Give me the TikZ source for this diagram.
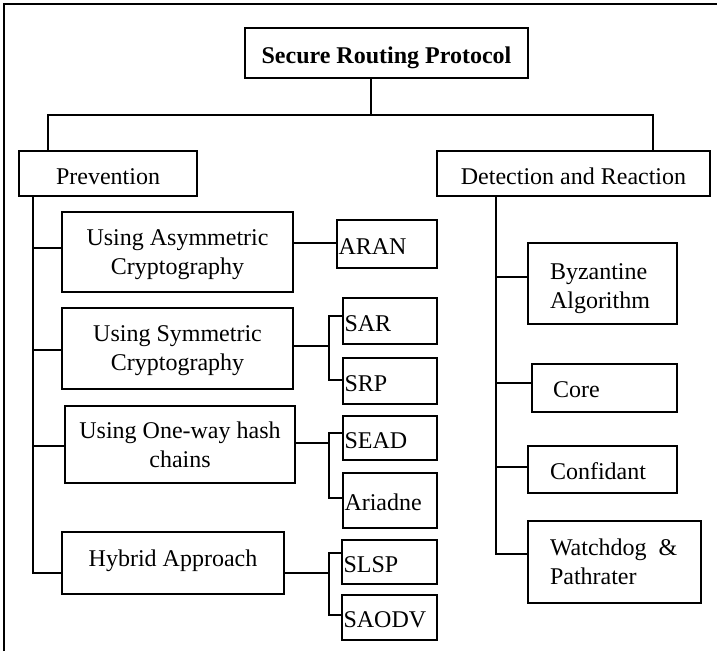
\documentclass[tikz,border=0pt]{standalone}
\usepackage{fontspec}
\setmainfont{Liberation Serif}
\begin{document}
\begin{tikzpicture}[x=1pt,y=-1pt,
  box/.style={draw, line width=1.3pt, inner sep=0pt, align=center, text depth=0pt, font=\fontsize{24}{29}\selectfont},
  leaf/.style={box, align=left, inner xsep=1.5pt, text height=20pt, text depth=0pt},
  rbox/.style={box, align=left},
  link/.style={line width=1.2pt},
  frame/.style={line width=1.4pt}
]
\useasboundingbox (0,0) rectangle (717,651);
\draw[frame] (4,651) -- (4,4) -- (717,4);

% top levels
\node[box, font=\fontsize{24}{29}\selectfont\bfseries, text height=20pt, minimum width=283pt, minimum height=50pt] (title) at (386.5,53) {Secure Routing Protocol};
\node[box, text height=22pt, minimum width=178pt, minimum height=45pt] (prev) at (108,173.5) {Prevention};
\node[box, text height=22pt, minimum width=273pt, minimum height=45pt] (det) at (573.5,173.5) {Detection and Reaction};

% prevention categories
\node[box, minimum width=231pt, minimum height=80pt] (asym) at (177.5,252) {Using Asymmetric\\Cryptography};
\node[box, minimum width=231pt, minimum height=81pt] (sym) at (177.5,348.5) {Using Symmetric\\Cryptography};
\node[box, minimum width=230pt, minimum height=77pt] (oneway) at (180,444.5) {Using One-way hash\\chains};
\node[box, text depth=10pt, minimum width=222pt, minimum height=62pt] (hyb) at (173,563) {Hybrid Approach};

% leaves
\node[leaf, text width=97pt, minimum width=100pt, minimum height=48pt] (aran) at (387,244) {ARAN};
\node[leaf, text width=91pt, minimum width=94pt, minimum height=46pt] (sar) at (390,321) {SAR};
\node[leaf, text width=91pt, minimum width=94pt, minimum height=46pt] (srp) at (390,381) {SRP};
\node[leaf, text width=91pt, minimum width=94pt, minimum height=44pt] (sead) at (390,438) {SEAD};
\node[leaf, text width=91pt, minimum width=94pt, minimum height=55pt] (ariadne) at (390,500.5) {Ariadne};
\node[leaf, text width=92pt, minimum width=95pt, minimum height=44pt] (slsp) at (389.5,562) {SLSP};
\node[leaf, text width=92pt, minimum width=95pt, minimum height=45pt] (saodv) at (389.5,617.5) {SAODV};

% detection and reaction
\node[rbox, text depth=24pt, inner xsep=22pt, text width=105pt, minimum width=149pt, minimum height=81pt] (byz) at (602.5,283.5) {Byzantine\\Algorithm};
\node[rbox, text height=18pt, inner xsep=21pt, text width=103pt, minimum width=145pt, minimum height=48pt] (core) at (604.5,388) {Core};
\node[rbox, text height=20pt, inner xsep=22pt, text width=105pt, minimum width=149pt, minimum height=47pt] (conf) at (602.5,469.5) {Confidant};
\node[rbox, text depth=29pt, inner xsep=22pt, text width=129pt, minimum width=173pt, minimum height=82pt] (watch) at (614.5,562) {Watchdog\hspace{12pt}\&\\Pathrater};

% top connectors
\coordinate (tj) at (371,115);
\coordinate (bl) at (48,115);
\coordinate (br) at (653,115);
\draw[link] (tj |- title.south) -- (tj);
\draw[link] (bl |- prev.north) -- (bl) -- (br) -- (br |- det.north);

% prevention spine
\coordinate (ja) at (33,248);
\coordinate (js) at (33,350);
\coordinate (jo) at (33,446);
\coordinate (jh) at (33,573);
\draw[link] (jh |- prev.south) -- (jh) -- (jh -| hyb.west);
\draw[link] (ja) -- (ja -| asym.west);
\draw[link] (js) -- (js -| sym.west);
\draw[link] (jo) -- (jo -| oneway.west);

% leaves connectors
\coordinate (ka) at (300,243);
\draw[link] (ka -| asym.east) -- (ka -| aran.west);

\coordinate (ks) at (329,346);
\coordinate (ks1) at (329,316);
\coordinate (ks2) at (329,380);
\draw[link] (ks -| sym.east) -- (ks);
\draw[link] (ks1 -| sar.west) -- (ks1) -- (ks2) -- (ks2 -| srp.west);

\coordinate (ko) at (329,443);
\coordinate (ko1) at (329,433);
\coordinate (ko2) at (329,498);
\draw[link] (ko -| oneway.east) -- (ko);
\draw[link] (ko1 -| sead.west) -- (ko1) -- (ko2) -- (ko2 -| ariadne.west);

\coordinate (kh) at (329,573);
\coordinate (kh1) at (329,553);
\coordinate (kh2) at (329,615);
\draw[link] (kh -| hyb.east) -- (kh);
\draw[link] (kh1 -| slsp.west) -- (kh1) -- (kh2) -- (kh2 -| saodv.west);

% detection spine
\coordinate (rj1) at (496,277);
\coordinate (rj2) at (496,383);
\coordinate (rj3) at (496,467);
\coordinate (rj4) at (496,554);
\draw[link] (rj4 |- det.south) -- (rj4) -- (rj4 -| watch.west);
\draw[link] (rj1) -- (rj1 -| byz.west);
\draw[link] (rj2) -- (rj2 -| core.west);
\draw[link] (rj3) -- (rj3 -| conf.west);
\end{tikzpicture}
\end{document}
